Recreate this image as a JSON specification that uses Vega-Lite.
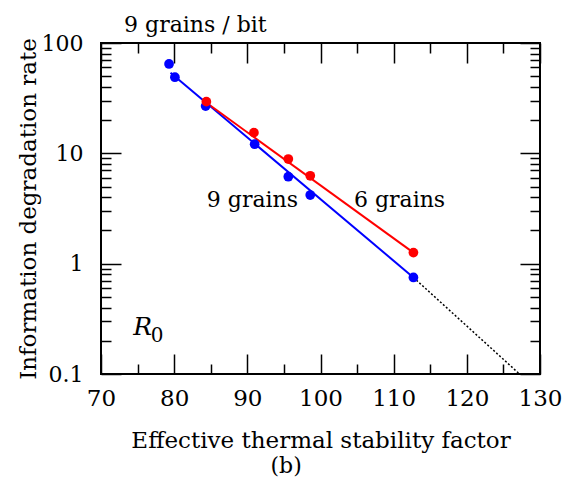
{
  "$schema": "https://vega.github.io/schema/vega-lite/v6.json",
  "width": 439,
  "height": 331,
  "autosize": "none",
  "padding": {"left": 101, "top": 43, "right": 29, "bottom": 111},
  "background": "white",
  "config": {
    "view": {"stroke": "black", "strokeWidth": 2},
    "font": "DejaVu Serif",
    "axis": {
      "labelFont": "DejaVu Serif",
      "titleFont": "DejaVu Serif",
      "labelColor": "black",
      "titleColor": "black",
      "titleFontWeight": "normal",
      "tickColor": "black",
      "tickWidth": 1.5,
      "domain": false,
      "grid": false,
      "labelOverlap": false,
      "labelFlush": false
    }
  },
  "datasets": {
    "points": [
      {"grains": "9 grains", "delta": 79.3, "rate": 64.6},
      {"grains": "9 grains", "delta": 80.1, "rate": 49.0},
      {"grains": "9 grains", "delta": 84.3, "rate": 26.8},
      {"grains": "9 grains", "delta": 91.0, "rate": 12.1},
      {"grains": "9 grains", "delta": 95.6, "rate": 6.14},
      {"grains": "9 grains", "delta": 98.6, "rate": 4.19},
      {"grains": "9 grains", "delta": 112.7, "rate": 0.75},
      {"grains": "6 grains", "delta": 84.4, "rate": 29.4},
      {"grains": "6 grains", "delta": 90.9, "rate": 15.4},
      {"grains": "6 grains", "delta": 95.6, "rate": 8.88},
      {"grains": "6 grains", "delta": 98.6, "rate": 6.26},
      {"grains": "6 grains", "delta": 112.7, "rate": 1.26}
    ],
    "fits": [
      {"grains": "9 grains", "delta": 79.5, "rate": 53.8},
      {"grains": "9 grains", "delta": 112.7, "rate": 0.75},
      {"grains": "6 grains", "delta": 83.9, "rate": 30.4},
      {"grains": "6 grains", "delta": 112.7, "rate": 1.26}
    ],
    "extrapolation": [
      {"delta": 112.7, "rate": 0.75},
      {"delta": 127.2, "rate": 0.1}
    ],
    "notes": [
      {"label": "9 grains", "delta": 90.7, "rate": 3.26},
      {"label": "6 grains", "delta": 110.8, "rate": 3.26},
      {"label": "9 grains / bit", "delta": 82.9, "rate": 126},
      {"label": "(b)", "delta": 95.3, "rate": 0.0127}
    ]
  },
  "resolve": {"axis": {"x": "independent", "y": "independent"}},
  "layer": [
    {
      "data": {"name": "fits"},
      "mark": {"type": "line", "strokeWidth": 2},
      "encoding": {
        "x": {
          "field": "delta", "type": "quantitative",
          "scale": {"domain": [70, 130], "nice": false, "zero": false},
          "axis": {
            "orient": "bottom",
            "title": "Effective thermal stability factor",
            "titleFontSize": 23,
            "titlePadding": 9,
            "labelFontSize": 23,
            "labelPadding": 33,
            "values": [70, 75, 80, 85, 90, 95, 100, 105, 110, 115, 120, 125, 130],
            "labelExpr": "datum.value % 10 == 0 ? datum.label : ''",
            "tickSize": {"condition": {"test": "datum.value % 10 == 0", "value": -20}, "value": -10}
          }
        },
        "y": {
          "field": "rate", "type": "quantitative",
          "scale": {"type": "log", "domain": [0.1, 100], "nice": false},
          "axis": {
            "orient": "left",
            "title": "Information degradation rate",
            "titleFontSize": 23,
            "titlePadding": 1,
            "labelFontSize": 22,
            "labelPadding": 38,
            "format": "~g",
            "values": [0.1, 0.2, 0.3, 0.4, 0.5, 0.6, 0.7, 0.8, 0.9, 1, 2, 3, 4, 5, 6, 7, 8, 9, 10, 20, 30, 40, 50, 60, 70, 80, 90, 100],
            "labelExpr": "(datum.value == 0.1 || datum.value == 1 || datum.value == 10 || datum.value == 100) ? datum.label : ''",
            "tickSize": {"condition": {"test": "datum.value == 0.1 || datum.value == 1 || datum.value == 10 || datum.value == 100", "value": -20}, "value": -10}
          }
        },
        "color": {
          "field": "grains", "type": "nominal",
          "scale": {"domain": ["9 grains", "6 grains"], "range": ["#0000ff", "#ff0000"]},
          "legend": null
        },
        "detail": {"field": "grains"}
      }
    },
    {
      "data": {"name": "extrapolation"},
      "mark": {"type": "line", "color": "black", "strokeWidth": 1.5, "strokeDash": [2, 2]},
      "encoding": {
        "x": {"field": "delta", "type": "quantitative", "axis": null},
        "y": {"field": "rate", "type": "quantitative", "axis": null}
      }
    },
    {
      "data": {"name": "points"},
      "mark": {"type": "circle", "size": 95, "opacity": 1},
      "encoding": {
        "x": {"field": "delta", "type": "quantitative", "axis": null},
        "y": {"field": "rate", "type": "quantitative", "axis": null},
        "color": {"field": "grains", "type": "nominal", "legend": null}
      }
    },
    {
      "data": {"name": "points"},
      "mark": {"type": "point", "opacity": 0},
      "encoding": {
        "x": {
          "field": "delta", "type": "quantitative",
          "axis": {
            "orient": "top", "title": null, "labels": false,
            "values": [70, 75, 80, 85, 90, 95, 100, 105, 110, 115, 120, 125, 130],
            "tickSize": {"condition": {"test": "datum.value % 10 == 0", "value": -20}, "value": -10}
          }
        },
        "y": {
          "field": "rate", "type": "quantitative",
          "axis": {
            "orient": "right", "title": null, "labels": false,
            "values": [0.1, 0.2, 0.3, 0.4, 0.5, 0.6, 0.7, 0.8, 0.9, 1, 2, 3, 4, 5, 6, 7, 8, 9, 10, 20, 30, 40, 50, 60, 70, 80, 90, 100],
            "tickSize": {"condition": {"test": "datum.value == 0.1 || datum.value == 1 || datum.value == 10 || datum.value == 100", "value": -20}, "value": -10}
          }
        }
      }
    },
    {
      "data": {"name": "notes"},
      "mark": {"type": "text", "font": "DejaVu Serif", "fontSize": 22, "align": "center", "baseline": "alphabetic", "color": "black"},
      "encoding": {
        "x": {"field": "delta", "type": "quantitative", "axis": null},
        "y": {"field": "rate", "type": "quantitative", "axis": null},
        "text": {"field": "label"}
      }
    },
    {
      "data": {"values": [{"label": "R", "delta": 74.4, "rate": 0.225}]},
      "mark": {"type": "text", "font": "DejaVu Serif", "fontSize": 25, "fontStyle": "italic", "align": "left", "baseline": "alphabetic", "color": "black"},
      "encoding": {
        "x": {"field": "delta", "type": "quantitative", "axis": null},
        "y": {"field": "rate", "type": "quantitative", "axis": null},
        "text": {"field": "label"}
      }
    },
    {
      "data": {"values": [{"label": "0", "delta": 76.8, "rate": 0.195}]},
      "mark": {"type": "text", "font": "DejaVu Serif", "fontSize": 20, "align": "left", "baseline": "alphabetic", "color": "black"},
      "encoding": {
        "x": {"field": "delta", "type": "quantitative", "axis": null},
        "y": {"field": "rate", "type": "quantitative", "axis": null},
        "text": {"field": "label"}
      }
    }
  ]
}
